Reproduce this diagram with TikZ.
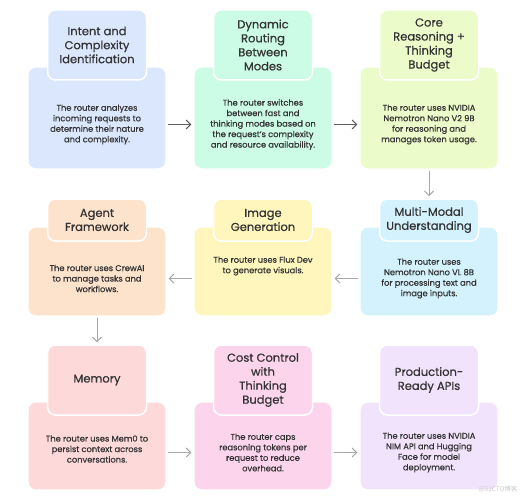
\documentclass[tikz,border=0pt]{standalone}
\usepackage{fontspec}
\setmainfont{Poppins}[FakeBold=0.6]
\newfontfamily\cjkfont{Noto Sans CJK SC}
\usetikzlibrary{arrows.meta,positioning,calc}
\definecolor{ink}{HTML}{333333}
\definecolor{wire}{HTML}{5E5E5E}
\definecolor{wirelt}{HTML}{A8A8A8}
\definecolor{fBlue}{HTML}{DBE7FD}
\definecolor{fMint}{HTML}{CCFBE6}
\definecolor{fLime}{HTML}{EBFBC9}
\definecolor{fPeach}{HTML}{FDE3CC}
\definecolor{fYellow}{HTML}{FEF6BC}
\definecolor{fCyan}{HTML}{D3F2FD}
\definecolor{fRose}{HTML}{FED9D9}
\definecolor{fPink}{HTML}{FCD5EC}
\definecolor{fLilac}{HTML}{F2E3FC}
\tikzset{
  card/.style={draw=white,line width=1.2pt,rounded corners=8pt,minimum width=138pt,inner sep=0pt},
  tab/.style={draw=white,line width=1.5pt,rounded corners=8pt,minimum width=99pt,inner sep=0pt,
    align=center,text=ink,font=\fontsize{11.5}{14}\selectfont},
  desc/.style={align=center,text=ink,font=\fontsize{8.3}{10.5}\selectfont},
  arr/.style={-{Straight Barb[length=1.6mm,width=3.2mm]},line width=1pt,draw=wire,
    shorten <=1pt,shorten >=2pt},
  arrlt/.style={arr,draw=wirelt}
}

\begin{document}
\begin{tikzpicture}[x=1pt,y=-1pt]
\useasboundingbox (0,0) rectangle (527,500);

% row 1
\node[card,fill=fBlue,minimum height=102pt] (intent) at (97,118) {};
\node[tab,fill=fBlue,minimum height=70pt] (intent-t) at (97,45) {Intent and\\Complexity\\Identification};
\node[desc] (intent-d) at (97,124.5) {The router analyzes\\incoming requests to\\determine their nature\\and complexity.};

\node[card,fill=fMint,minimum height=102pt] (routing) at (263,118) {};
\node[tab,fill=fMint,minimum height=70pt] (routing-t) at (263,45) {Dynamic\\Routing\\Between\\Modes};
\node[desc] (routing-d) at (263,124.5) {The router switches\\between fast and\\thinking modes based on\\the request's complexity\\and resource availability.};

\node[card,fill=fLime,minimum height=102pt] (core) at (429,118) {};
\node[tab,fill=fLime,minimum height=70pt] (core-t) at (429,45) {Core\\Reasoning +\\Thinking\\Budget};
\node[desc] (core-d) at (429,124.5) {The router uses NVIDIA\\Nemotron Nano V2 9B\\for reasoning and\\manages token usage.};

% row 2
\node[card,fill=fPeach,minimum height=89pt] (agent) at (97,271.5) {};
\node[tab,fill=fPeach,minimum height=42pt] (agent-t) at (97,220) {Agent\\Framework};
\node[desc] (agent-d) at (97,278.5) {The router uses CrewAI\\to manage tasks and\\workflows.};

\node[card,fill=fYellow,minimum height=89pt] (image) at (263,271.5) {};
\node[tab,fill=fYellow,minimum height=42pt] (image-t) at (263,220) {Image\\Generation};
\node[desc] (image-d) at (263,266) {The router uses Flux Dev\\to generate visuals.};

\node[card,fill=fCyan,minimum height=89pt] (multi) at (429,271.5) {};
\node[tab,fill=fCyan,minimum height=42pt] (multi-t) at (429,220) {Multi-Modal\\Understanding};
\node[desc] (multi-d) at (429,278.5) {The router uses\\Nemotron Nano VL 8B\\for processing text and\\image inputs.};

% row 3
\node[card,fill=fRose,minimum height=88pt] (memory) at (97,446) {};
\node[tab,fill=fRose,minimum height=70pt] (memory-t) at (97,380) {Memory};
\node[desc] (memory-d) at (97,449) {The router uses Mem0 to\\persist context across\\conversations.};

\node[card,fill=fPink,minimum height=88pt] (cost) at (263,446) {};
\node[tab,fill=fPink,minimum height=70pt] (cost-t) at (263,380) {Cost Control\\with\\Thinking\\Budget};
\node[desc] (cost-d) at (263,452.5) {The router caps\\reasoning tokens per\\request to reduce\\overhead.};

\node[card,fill=fLilac,minimum height=88pt] (api) at (429,446) {};
\node[tab,fill=fLilac,minimum height=70pt] (api-t) at (429,380) {Production-\\Ready APIs};
\node[desc] (api-d) at (429,452.5) {The router uses NVIDIA\\NIM API and Hugging\\Face for model\\deployment.};

% connectors
\draw[arr] (intent.east |- intent-d) -- (routing.west |- intent-d);
\draw[arr] (routing.east |- routing-d) -- (core.west |- routing-d);
\draw[arrlt] (core.south) -- (multi-t.north);
\draw[arrlt] (multi.west |- multi-d) -- (image.east |- multi-d);
\draw[arrlt] (image.west |- multi-d) -- (agent.east |- multi-d);
\draw[arrlt] (agent.south) -- (memory-t.north);
\draw[arrlt] (memory.east |- cost-d) -- (cost.west |- cost-d);
\draw[arrlt] (cost.east |- cost-d) -- (api.west |- cost-d);

\node[anchor=east,text=gray!40,font=\cjkfont\fontsize{6.5}{8}\selectfont] (mark) at (521,489) {@51CTO博客};
\end{tikzpicture}
\end{document}
